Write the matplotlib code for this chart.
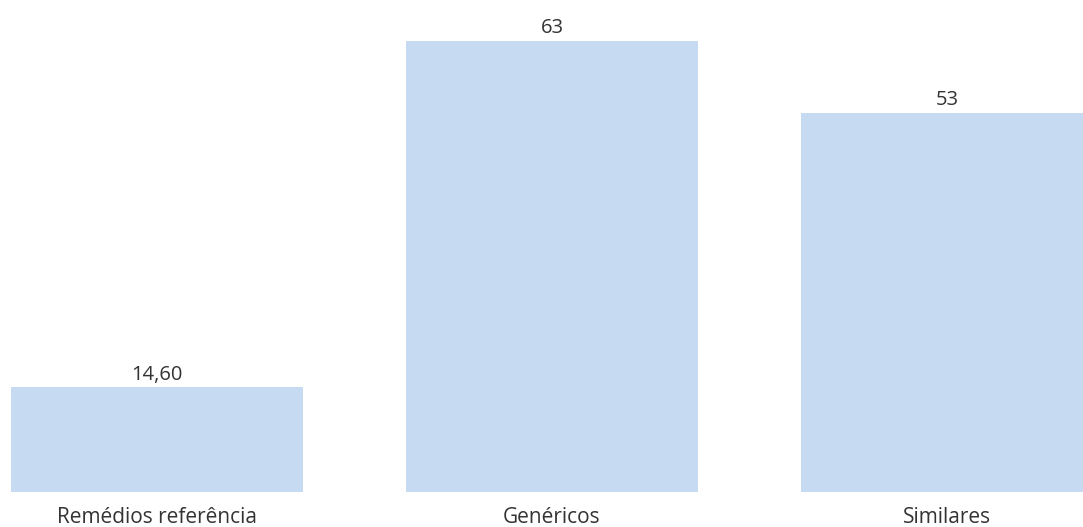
import matplotlib.pyplot as plt
import numpy as np

# Data
categories = ["Remédios referência", "Genéricos", "Similares"]
values = [14.60, 63, 53]
value_labels = ["14,60", "63", "53"]

plt.rcParams['font.family'] = ['Open Sans', 'DejaVu Sans']

fig = plt.figure(figsize=(10.83, 5.27), dpi=100)
ax = fig.add_axes([0, 35 / 527, 1, 451 / 527])

index = np.arange(len(categories))
bars = ax.bar(index, values, width=0.74, color="#c6dbf2")

# value labels above each bar
for rect, lab in zip(bars, value_labels):
    ax.annotate(lab, (rect.get_x() + rect.get_width() / 2, rect.get_height()),
                xytext=(0, 2), textcoords="offset points",
                ha="center", va="bottom", fontsize=14.5, color="#333333")

ax.set_xlim(-0.397, 2.344)
ax.set_ylim(0, 63)
ax.set_xticks(index)
ax.set_xticklabels(categories, fontsize=15, color="#333333")
ax.tick_params(axis="x", length=0, pad=11)
ax.set_yticks([])
for s in ax.spines.values():
    s.set_visible(False)

fig.savefig("out.png", dpi=100)
